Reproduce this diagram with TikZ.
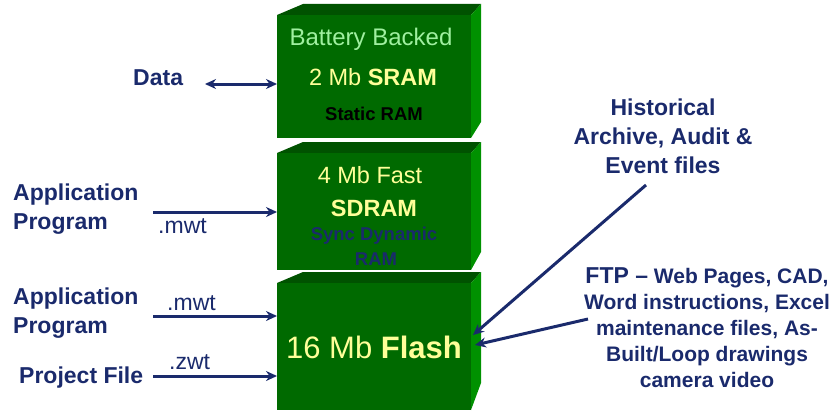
\documentclass[tikz,border=0pt]{standalone}
\usepackage{fontspec}
\setmainfont{Liberation Sans}
\usetikzlibrary{arrows.meta,calc}
\definecolor{navy}{RGB}{26,42,108}
\definecolor{gfront}{RGB}{0,106,0}
\definecolor{gtop}{RGB}{0,82,0}
\definecolor{gside}{RGB}{0,145,0}
\definecolor{paleyel}{RGB}{255,255,153}
\definecolor{palegreen}{RGB}{160,240,160}
\tikzset{
  front/.style={fill=gfront,draw=none,inner sep=0pt,anchor=north west},
  lbl/.style={inner sep=0pt,anchor=base,text=navy,font=\fontsize{23}{29}\selectfont\bfseries},
  ext/.style={inner sep=0pt,anchor=base,text=navy,font=\fontsize{23}{29}\selectfont},
  arr/.style={draw=navy,line width=3pt,-{Stealth[length=11pt,width=10pt]}},
  darr/.style={draw=navy,line width=3pt,{Stealth[length=11pt,width=10pt]}-{Stealth[length=11pt,width=10pt]}},
}
\begin{document}
\begin{tikzpicture}[x=1pt,y=-1pt]
\useasboundingbox (0,0) rectangle (835,412);
% ---- boxes
% SRAM
\fill[gtop] (277,15) -- (303,4) -- (481,4) -- (471,15) -- cycle;
\fill[gside] (471,15) -- (481,4) -- (481,122) -- (471,138) -- cycle;
\node[front,minimum width=194pt,minimum height=123pt] (sram) at (277,15) {};
% SDRAM
\fill[gtop] (277,153) -- (303,142) -- (481,142) -- (471,153) -- cycle;
\fill[gside] (471,153) -- (481,142) -- (481,252) -- (471,270) -- cycle;
\node[front,minimum width=194pt,minimum height=117pt] (sdram) at (277,153) {};
% Flash
\fill[gtop] (277,283) -- (303,272) -- (481,272) -- (471,283) -- cycle;
\fill[gside] (471,283) -- (481,272) -- (481,383) -- (471,410) -- cycle;
\node[front,minimum width=194pt,minimum height=127pt] (flash) at (277,283) {};
% ---- box texts
\node[inner sep=0pt,anchor=base,text=palegreen,font=\fontsize{24}{28}\selectfont] (bb) at (371,46) {Battery Backed};
\node[inner sep=0pt,anchor=base,text=paleyel,font=\fontsize{23.5}{28}\selectfont] (sr) at (373,85) {2 Mb \textbf{SRAM}};
\node[inner sep=0pt,anchor=base,text=black,font=\fontsize{18.5}{22}\selectfont\bfseries] (st) at (374,120) {Static RAM};
\node[inner sep=0pt,anchor=base,text=paleyel,font=\fontsize{23.5}{28}\selectfont] (fa) at (370,183) {4 Mb Fast};
\node[inner sep=0pt,anchor=base,text=paleyel,font=\fontsize{23.5}{28}\selectfont\bfseries] (sd) at (374,216) {SDRAM};
\node[inner sep=0pt,anchor=base,text=navy,font=\fontsize{18.5}{25}\selectfont\bfseries,align=center] (sy) at (374,265) {Sync Dynamic\\\hspace*{4pt}RAM};
\node[inner sep=0pt,anchor=base,text=paleyel,font=\fontsize{31}{36}\selectfont] (fl) at (374,358) {16 Mb \textbf{Flash}};
% ---- left labels
\node[lbl,anchor=base west] (data) at (133,85) {Data};
\node[lbl,anchor=base west,align=left] (app1) at (13,229) {Application\\Program};
\node[lbl,anchor=base west,align=left] (app2) at (13,333) {Application\\Program};
\node[lbl,anchor=base west] (proj) at (19,383) {Project File};
\node[ext,anchor=base west] (mwt1) at (158,233) {.mwt};
\node[ext,anchor=base west] (mwt2) at (167,310) {.mwt};
\node[ext,anchor=base west] (zwt) at (169,369) {.zwt};
% ---- right labels
\node[lbl,align=center] (hist) at (663,173) {Historical\\Archive, Audit \&\\Event files};
\node[lbl,align=center,font=\fontsize{21}{26}\selectfont\bfseries] (ftp) at (707,387)
  {{\fontsize{23}{26}\selectfont FTP –} Web Pages, CAD,\\Word instructions, Excel\\maintenance files, As-\\Built/Loop drawings\\camera video};
% ---- connectors
\coordinate (d0) at (205,84);
\draw[darr] (d0) -- (d0 -| sram.west);
\coordinate (a1) at (153,212);
\draw[arr] (a1) -- (a1 -| sdram.west);
\coordinate (a2) at (153,316);
\draw[arr] (a2) -- (a2 -| flash.west);
\coordinate (a3) at (153,376);
\draw[arr] (a3) -- (a3 -| flash.west);
\coordinate (h0) at (646,185);
\coordinate (h1) at (473,335);
\draw[arr] (h0) -- (h1);
\coordinate (f0) at (588,319);
\coordinate (f1) at (475,345);
\draw[arr] (f0) -- (f1);
\end{tikzpicture}
\end{document}
